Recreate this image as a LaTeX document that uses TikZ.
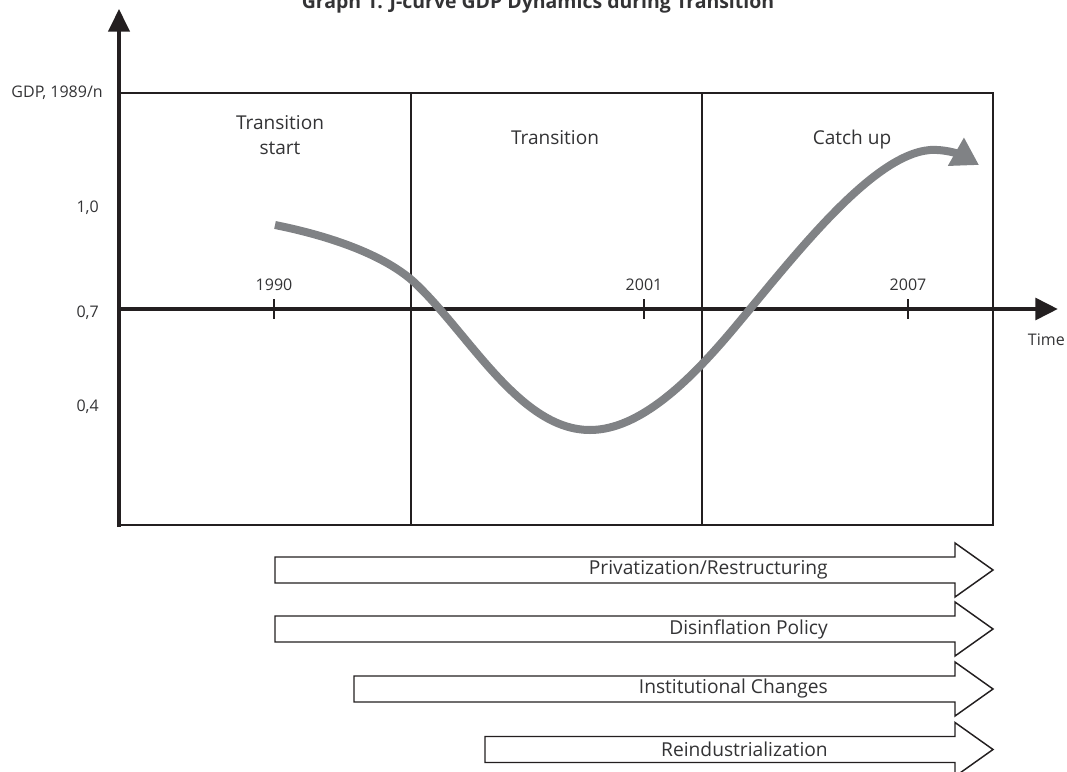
\documentclass[tikz,border=0pt]{standalone}
\usepackage{fontspec}
\setmainfont{Open Sans}
\usetikzlibrary{arrows.meta}
\definecolor{ink}{HTML}{231F20}
\definecolor{txt}{HTML}{333335}
\definecolor{curvegray}{HTML}{808285}
\begin{document}
\begin{tikzpicture}[x=0.75pt,y=-0.75pt,
  frameline/.style={draw=ink,line width=1.2pt},
  axisline/.style={draw=ink,line width=2.4pt,-{Triangle[length=17pt,width=16pt]}},
  xaxisline/.style={draw=ink,line width=3.6pt,-{Triangle[length=17pt,width=16pt]}},
  tickline/.style={draw=ink,line width=0.8pt},
  smalllbl/.style={font=\fontsize{12}{14}\selectfont,text=txt,inner sep=0pt},
  biglbl/.style={font=\fontsize{14.3}{18.75}\selectfont,text=txt,inner sep=0pt,align=center,anchor=base},
  barlbl/.style={font=\fontsize{14.4}{16}\selectfont,text=txt,inner sep=0pt,anchor=east},
  blockarrow/.style={draw=ink,line width=1.1pt,fill=white,line join=miter},
  gdpcurve/.style={draw=curvegray,line width=6pt,-{Triangle[length=20pt,width=23pt]}}
]
\useasboundingbox (0,0) rectangle (1067,771);
\clip (0,0) rectangle (1067,771);

% title (cut at top, as in the reference)
\node[font=\bfseries\fontsize{14.6}{17}\selectfont,text=txt,anchor=base,inner sep=0pt] (title) at (538,8) {Graph 1. J-curve GDP Dynamics during Transition};

% frame
\coordinate (tl) at (119,93);
\coordinate (tr) at (993,93);
\coordinate (bl) at (119,525);
\coordinate (br) at (993,525);
\coordinate (v1t) at (411,93);
\coordinate (v1b) at (411,525);
\coordinate (v2t) at (702,93);
\coordinate (v2b) at (702,525);
\draw[frameline] (tl) -- (tr) -- (br) -- (bl);
\draw[frameline] (v1t) -- (v1b);
\draw[frameline] (v2t) -- (v2b);

% axes
\coordinate (yaxb) at (119,527);
\coordinate (yaxt) at (119,9);
\coordinate (xaxl) at (117,309);
\coordinate (xaxr) at (1058,309);
\draw[axisline] (yaxb) -- (yaxt);
\draw[xaxisline] (xaxl) -- (xaxr);

% ticks
\foreach \xx/\yr/\nm in {274/1990/ta,644/2001/tb,908/2007/tc}{
  \coordinate (\nm1) at (\xx,299);
  \coordinate (\nm2) at (\xx,319);
  \draw[tickline] (\nm1) -- (\nm2);
  \node[smalllbl] (\nm l) at (\xx,285) {\yr};
}

% y labels
\node[smalllbl,anchor=east] (gdp) at (103,93) {GDP, 1989/n};
\node[smalllbl,anchor=east] (y10) at (99,208) {1,0};
\node[smalllbl,anchor=east] (y07) at (99,313) {0,7};
\node[smalllbl,anchor=east] (y04) at (99,407) {0,4};
\node[smalllbl,anchor=east] (time) at (1065,340) {Time};

% section labels
\node[biglbl] (s1) at (280,154) {Transition\\start};
\node[biglbl] (s2) at (555,144) {Transition};
\node[biglbl] (s3) at (852,144) {Catch up};

% curve
\draw[gdpcurve] (275,225) .. controls (330,236) and (385,255) .. (415,283)
  .. controls (470,335) and (520,430) .. (590,430)
  .. controls (640,430) and (690,380) .. (730,333)
  .. controls (790,262) and (870,155) .. (930,150)
  .. controls (950,149) and (965,157) .. (979,165);

% block arrows
\foreach \L/\c/\txt/\nm in {275/570/{Privatization/Restructuring}/ba,
                           275/629/{Disinflation Policy}/bb,
                           354/689/{Institutional Changes}/bc,
                           485/749.5/{Reindustrialization}/bd}{
  \draw[blockarrow] (\L,\c-13) -- (955,\c-13) -- (955,\c-27) -- (993,\c)
     -- (955,\c+27) -- (955,\c+13) -- (\L,\c+13) -- cycle;
  \node[barlbl] (\nm) at (828,\c) {\txt};
}
\end{tikzpicture}
\end{document}
